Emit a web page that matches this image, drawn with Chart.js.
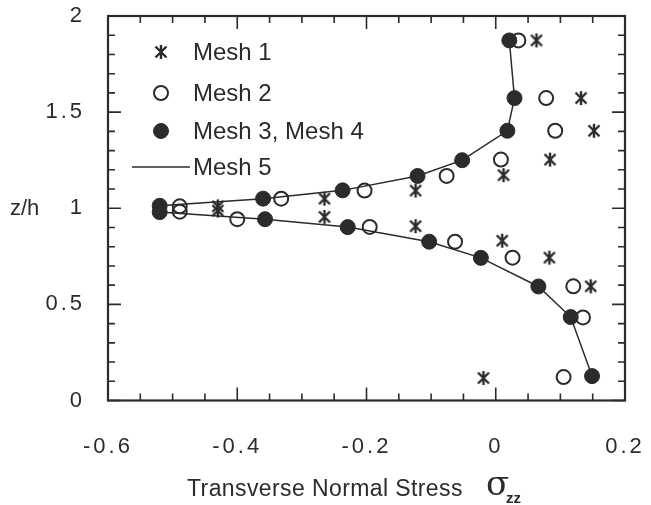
<!DOCTYPE html>
<html>
<head>
<meta charset="utf-8">
<script src="https://cdn.jsdelivr.net/npm/chart.js@4.4.0/dist/chart.umd.min.js"></script>
<style>
  html, body { margin: 0; padding: 0; background: #fff; }
  canvas { display: block; }
</style>
</head>
<body>
<canvas id="stressChart" width="651" height="505"></canvas>
<script>
// values: sigma_zz (x) against z/h (y)
var mesh1X = [0.063, 0.132, 0.152, 0.084, 0.012, -0.124, -0.265, -0.43, -0.43, -0.265, -0.124, 0.01, 0.083, 0.147, -0.019];
var mesh1Z = [1.873, 1.573, 1.403, 1.253, 1.172, 1.092, 1.05, 1.01, 0.988, 0.955, 0.907, 0.831, 0.743, 0.594, 0.117];

var mesh2X = [0.035, 0.078, 0.092, 0.008, -0.076, -0.203, -0.332, -0.489, -0.489, -0.40, -0.195, -0.063, 0.026, 0.12, 0.135, 0.105];
var mesh2Z = [1.873, 1.573, 1.403, 1.253, 1.168, 1.092, 1.05, 1.01, 0.982, 0.943, 0.903, 0.826, 0.743, 0.594, 0.432, 0.122];

var mesh34X = [0.021, 0.029, 0.018, -0.052, -0.121, -0.237, -0.36, -0.52, -0.52, -0.357, -0.229, -0.103, -0.023, 0.066, 0.116, 0.149];
var mesh34Z = [1.873, 1.573, 1.403, 1.25, 1.168, 1.093, 1.05, 1.013, 0.98, 0.943, 0.902, 0.826, 0.742, 0.593, 0.434, 0.127];

var mesh5X = [0.021, 0.029, 0.018, -0.052, -0.121, -0.237, -0.36, -0.52, -0.52, -0.357, -0.229, -0.103, -0.023, 0.066, 0.116, 0.149];
var mesh5Z = [1.873, 1.573, 1.403, 1.25, 1.168, 1.093, 1.05, 1.013, 0.98, 0.943, 0.902, 0.826, 0.742, 0.593, 0.434, 0.127];

var xTicks = [-0.6, -0.4, -0.2, 0, 0.2];
var yTicks = [0, 0.5, 1, 1.5, 2];
var legendLabels = ['Mesh 1', 'Mesh 2', 'Mesh 3, Mesh 4', 'Mesh 5'];

var ink = '#2b2b2b';
var fontFamily = '"Liberation Sans", Arial, Helvetica, sans-serif';

function toPoints(xs, zs) {
  return xs.map(function(x, i) { return { x: x, y: zs[i] }; });
}

// asterisk marker like the scanned figure
var star = document.createElement('canvas');
star.width = 18;
star.height = 18;
(function() {
  var c = star.getContext('2d');
  c.strokeStyle = ink;
  c.lineWidth = 2.4;
  c.beginPath();
  c.moveTo(9, 2); c.lineTo(9, 16);
  c.moveTo(3.5, 3.5); c.lineTo(14.5, 14.5);
  c.moveTo(14.5, 3.5); c.lineTo(3.5, 14.5);
  c.stroke();
})();

// the scanned tick labels are spaced out a little
var spacing = {
  id: 'spacing',
  beforeDraw: function(chart) {
    chart.ctx.letterSpacing = '3px';
  }
};

// ticks pointing inward on all four sides, plus a full frame
var frameTicks = {
  id: 'frameTicks',
  afterDatasetsDraw: function(chart) {
    var ctx = chart.ctx;
    var a = chart.chartArea;
    var xs = chart.scales.x;
    var ys = chart.scales.y;
    ctx.save();
    ctx.strokeStyle = ink;
    ctx.lineWidth = 1.6;
    ctx.beginPath();
    for (var i = 0; i <= 16; i++) {
      var px = xs.getPixelForValue(-0.6 + i * 0.05);
      var len = (i % 4 === 0) ? 13 : 7;
      ctx.moveTo(px, a.bottom); ctx.lineTo(px, a.bottom - len);
      ctx.moveTo(px, a.top); ctx.lineTo(px, a.top + len);
    }
    for (var j = 0; j <= 20; j++) {
      var py = ys.getPixelForValue(j * 0.1);
      var l2 = (j % 5 === 0) ? 13 : 7;
      ctx.moveTo(a.left, py); ctx.lineTo(a.left + l2, py);
      ctx.moveTo(a.right, py); ctx.lineTo(a.right - l2, py);
    }
    ctx.stroke();
    ctx.lineWidth = 2.2;
    ctx.strokeRect(a.left, a.top, a.right - a.left, a.bottom - a.top);
    ctx.restore();
  }
};

// legend inside the plot, axis title and z/h label
var annotations = {
  id: 'annotations',
  afterDraw: function(chart) {
    var ctx = chart.ctx;
    var ds = chart.data.datasets;
    ctx.save();
    ctx.letterSpacing = '0px';
    ctx.fillStyle = ink;
    ctx.strokeStyle = ink;
    ctx.textBaseline = 'middle';
    ctx.font = '24px ' + fontFamily;
    var rows = [52, 93, 131, 167];
    for (var i = 0; i < 4; i++) {
      var d = ds[i];
      if (d.showLine) {
        ctx.lineWidth = d.borderWidth;
        ctx.beginPath();
        ctx.moveTo(132, rows[i]);
        ctx.lineTo(190, rows[i]);
        ctx.stroke();
      } else {
        ctx.lineWidth = d.pointBorderWidth;
        ctx.fillStyle = d.pointBackgroundColor;
        ctx.strokeStyle = d.pointBorderColor;
        Chart.helpers.drawPoint(ctx, {
          pointStyle: d.pointStyle,
          radius: d.pointRadius,
          borderWidth: d.pointBorderWidth,
          rotation: 0
        }, 161, rows[i]);
        ctx.fillStyle = ink;
        ctx.strokeStyle = ink;
      }
      ctx.fillText(legendLabels[i], 193, rows[i] + 1);
    }

    ctx.font = '22px ' + fontFamily;
    ctx.fillText('z/h', 10, 209);

    ctx.font = '23px ' + fontFamily;
    ctx.letterSpacing = '0.4px';
    ctx.fillText('Transverse Normal Stress', 187, 490);
    ctx.letterSpacing = '0px';
    ctx.font = '34px "DejaVu Serif", serif';
    ctx.fillText('\u03C3', 486, 486);
    ctx.font = 'bold 15px ' + fontFamily;
    ctx.fillText('zz', 506, 499);
    ctx.restore();
  }
};

var ctx = document.getElementById('stressChart').getContext('2d');
var stressChart = new Chart(ctx, {
  type: 'scatter',
  data: {
    datasets: [{
      label: 'Mesh 1',
      data: toPoints(mesh1X, mesh1Z),
      pointStyle: star,
      pointRadius: 9,
      pointBorderWidth: 2,
      pointBackgroundColor: ink,
      pointBorderColor: ink,
      order: 3
    }, {
      label: 'Mesh 2',
      data: toPoints(mesh2X, mesh2Z),
      pointStyle: 'circle',
      pointRadius: 7,
      pointBorderWidth: 2,
      pointBackgroundColor: 'rgba(0,0,0,0)',
      pointBorderColor: ink,
      order: 2
    }, {
      label: 'Mesh 3, Mesh 4',
      data: toPoints(mesh34X, mesh34Z),
      pointStyle: 'circle',
      pointRadius: 7.5,
      pointBorderWidth: 1,
      pointBackgroundColor: ink,
      pointBorderColor: ink,
      order: 0
    }, {
      label: 'Mesh 5',
      data: toPoints(mesh5X, mesh5Z),
      showLine: true,
      borderColor: ink,
      borderWidth: 1.5,
      pointRadius: 0,
      tension: 0,
      order: 1
    }]
  },
  options: {
    responsive: false,
    animation: false,
    layout: { padding: { left: 0, right: 26, top: 16, bottom: 0 } },
    plugins: {
      legend: { display: false },
      tooltip: { enabled: false }
    },
    scales: {
      x: {
        type: 'linear',
        min: -0.6,
        max: 0.2,
        afterBuildTicks: function(scale) {
          scale.ticks = xTicks.map(function(v) { return { value: v }; });
        },
        afterFit: function(scale) {
          scale.height = 104.5;
          scale.paddingLeft = 0;
          scale.paddingRight = 0;
        },
        grid: { display: false, drawTicks: false },
        border: { display: false },
        ticks: {
          color: ink,
          padding: 33,
          maxRotation: 0,
          font: { size: 22, family: fontFamily },
          callback: function(v) { return String(Math.round(v * 10) / 10); }
        }
      },
      y: {
        type: 'linear',
        min: 0,
        max: 2,
        afterBuildTicks: function(scale) {
          scale.ticks = yTicks.map(function(v) { return { value: v }; });
        },
        afterFit: function(scale) {
          scale.width = 108;
          scale.paddingTop = 0;
          scale.paddingBottom = 0;
        },
        grid: { display: false, drawTicks: false },
        border: { display: false },
        ticks: {
          color: ink,
          padding: 23,
          font: { size: 22, family: fontFamily },
          callback: function(v) { return String(v); }
        }
      }
    }
  },
  plugins: [spacing, frameTicks, annotations]
});
</script>
</body>
</html>
